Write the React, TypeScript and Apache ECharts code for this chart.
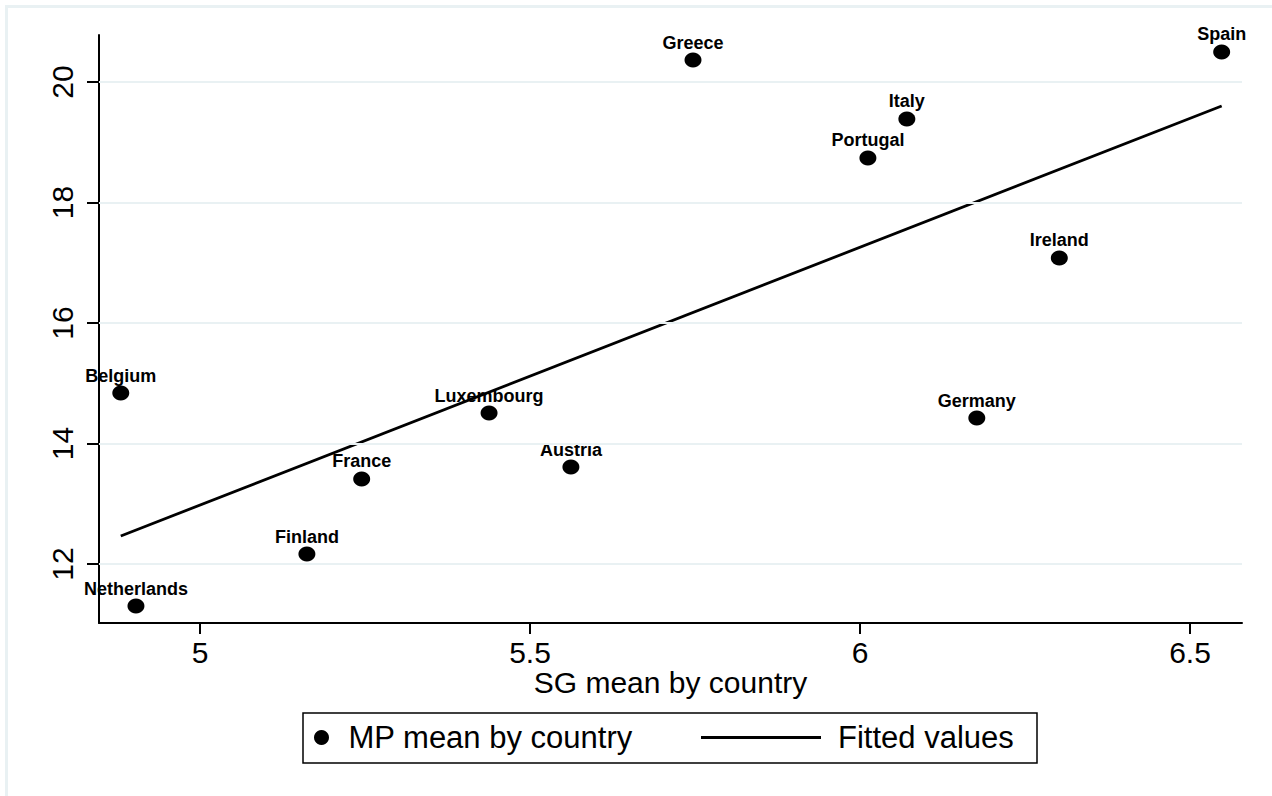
import React, { useEffect, useRef } from "react";
import * as echarts from "echarts";

const countries = [
  "Netherlands", "Belgium", "Finland", "France", "Luxembourg", "Austria",
  "Greece", "Portugal", "Italy", "Germany", "Ireland", "Spain",
];
const sgMean = [4.903, 4.880, 5.162, 5.245, 5.438, 5.562, 5.747, 6.012, 6.071, 6.177, 6.302, 6.548];
const mpMean = [11.303, 14.838, 12.166, 13.411, 14.506, 13.610, 20.365, 18.739, 19.386, 14.423, 17.079, 20.498];
const fitX = [4.880, 6.548];
const fitY = [12.465, 19.602];
const xTicks = [5, 5.5, 6, 6.5];
const yTicks = [12, 14, 16, 18, 20];

const FONT = "Liberation Sans, Arial, Helvetica, sans-serif";

export default function App() {
  const ref = useRef<HTMLDivElement>(null);
  useEffect(() => {
    document.body.style.margin = "0";
    const chart = echarts.init(ref.current!, null, { renderer: "svg" });
    const option = {
      animation: false,
      backgroundColor: "#ffffff",
      textStyle: { fontFamily: FONT },
      graphic: [
        {
          type: "rect",
          z: -10,
          shape: { x: 6.5, y: 6.5, width: 1400, height: 1000 },
          style: { fill: "none", stroke: "#e9f1f3", lineWidth: 3 },
        },
        {
          type: "rect",
          z: -5,
          shape: { x: 303, y: 713, width: 734, height: 50 },
          style: { fill: "#ffffff", stroke: "#000000", lineWidth: 1.5 },
        },
      ],
      grid: { left: 99, right: 30, top: 35, bottom: 173, containLabel: false },
      legend: [
        {
          data: ["MP mean by country"],
          left: 314,
          top: 722,
          padding: 0,
          itemWidth: 18,
          itemHeight: 15,
          icon: "circle",
          itemStyle: { color: "#000", opacity: 1 },
          textStyle: { fontSize: 31, color: "#000", fontFamily: FONT, padding: [0, 0, 0, 13] },
        },
        {
          data: ["Fitted values"],
          left: 701,
          top: 722,
          padding: 0,
          itemWidth: 120,
          itemHeight: 3,
          icon: "rect",
          itemStyle: { color: "#000", opacity: 1 },
          textStyle: { fontSize: 31, color: "#000", fontFamily: FONT, padding: [0, 0, 0, 12] },
        },
      ],
      xAxis: {
        type: "value",
        min: 4.847,
        max: 6.5788,
        name: "SG mean by country",
        nameLocation: "middle",
        nameGap: 44,
        nameMoveOverlap: false,
        nameTextStyle: { fontSize: 30, color: "#000", fontFamily: FONT },
        axisLine: { show: true, onZero: false, lineStyle: { color: "#000", width: 2 } },
        axisTick: { show: true, length: 11, customValues: xTicks, lineStyle: { color: "#000", width: 2 } },
        axisLabel: { customValues: xTicks, fontSize: 30, color: "#000", margin: 14, fontFamily: FONT },
        splitLine: { show: false },
      },
      yAxis: {
        type: "value",
        min: 11.021,
        max: 20.78,
        axisLine: { show: true, onZero: false, lineStyle: { color: "#000", width: 2 } },
        axisTick: { show: true, length: 12, customValues: yTicks, lineStyle: { color: "#000", width: 2 } },
        axisLabel: { customValues: yTicks, rotate: 90, fontSize: 30, color: "#000", margin: 22, fontFamily: FONT },
        splitLine: { show: false },
      },
      series: [
        {
          name: "grid",
          type: "line",
          data: [],
          z: 0,
          silent: true,
          markLine: {
            silent: true,
            symbol: ["none", "none"],
            label: { show: false },
            lineStyle: { color: "#e9f1f3", width: 2, type: "solid" },
            data: yTicks.map((v) => ({ yAxis: v })),
          },
        },
        {
          name: "Fitted values",
          type: "line",
          z: 3,
          showSymbol: false,
          symbol: "none",
          data: fitX.map((x, i) => [x, fitY[i]]),
          lineStyle: { color: "#000", width: 2.8 },
          itemStyle: { color: "#000" },
        },
        {
          name: "MP mean by country",
          type: "scatter",
          z: 4,
          symbol: "circle",
          symbolSize: [17, 15],
          itemStyle: { color: "#000", opacity: 1 },
          data: countries.map((c, i) => ({ name: c, value: [sgMean[i], mpMean[i]] })),
          label: {
            show: true,
            position: "top",
            distance: 1,
            formatter: "{b}",
            fontSize: 18,
            fontWeight: "bold",
            color: "#000",
            opacity: 1,
            fontFamily: FONT,
          },
        },
      ],
    };
    chart.setOption(option);
    return () => chart.dispose();
  }, []);
  return <div ref={ref} style={{ width: 1272, height: 796 }} />;
}
